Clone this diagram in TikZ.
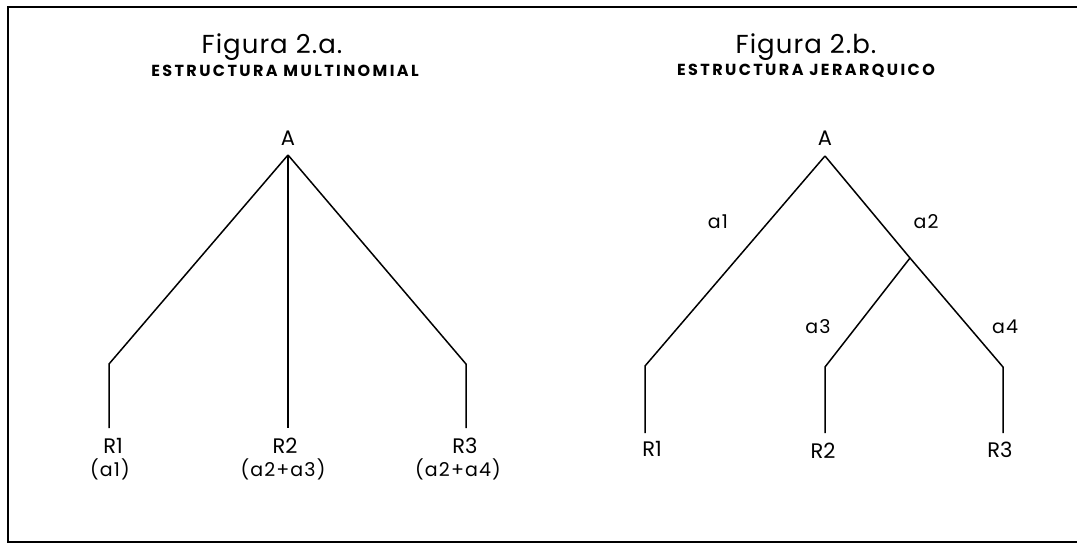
\documentclass[tikz,border=0pt]{standalone}
\usepackage{fontspec}
\setmainfont{Poppins}
\begin{document}
\begin{tikzpicture}[x=1pt,y=-1pt,
  lbl/.style={inner sep=0pt,font=\fontsize{21}{21}\selectfont},
  sub/.style={inner sep=0pt,font=\fontsize{19}{19}\selectfont\addfontfeatures{LetterSpace=6}},
  ttl/.style={inner sep=0pt,font=\fontsize{26}{26}\selectfont\addfontfeatures{LetterSpace=4}},
  subttl/.style={inner sep=0pt,font=\fontsize{16}{16}\bfseries\selectfont\addfontfeatures{LetterSpace=15}},
  edge/.style={line width=1.5pt,line join=round},
  frame/.style={line width=1.8pt}]
\useasboundingbox (0,0) rectangle (1077,544);
% frame
\coordinate (f1) at (1077,7);
\coordinate (f2) at (8,7);
\coordinate (f3) at (8,542);
\coordinate (f4) at (1077,542);
\draw[frame] (f1) -- (f2) -- (f3) -- (f4);

% ---- Figure 2.a
\node[ttl] (t1) at (272,47) {Figura 2.a.};
\node[subttl] (s1) at (285,71) {ESTRUCTURA MULTINOMIAL};
\node[lbl] (A1) at (288,138) {A};
\coordinate (p1) at (288,155);
\coordinate (k11) at (109,364);
\coordinate (e11) at (109,428);
\coordinate (e12) at (288,428);
\coordinate (k13) at (466,364);
\coordinate (e13) at (466,428);
\draw[edge] (p1) -- (k11) -- (e11);
\draw[edge] (p1) -- (e12);
\draw[edge] (p1) -- (k13) -- (e13);
\node[lbl] (r11) at (113,446) {R1};
\node[sub] (c11) at (110,469) {(a1)};
\node[lbl] (r12) at (285,446) {R2};
\node[sub] (c12) at (283,469) {(a2+a3)};
\node[lbl] (r13) at (465,446) {R3};
\node[sub] (c13) at (458,469) {(a2+a4)};

% ---- Figure 2.b
\node[ttl] (t2) at (806,47) {Figura 2.b.};
\node[subttl] (s2) at (806,71) {ESTRUCTURA JERARQUICO};
\node[lbl] (A2) at (825,138) {A};
\coordinate (p2) at (825,156);
\coordinate (k21) at (645,366);
\coordinate (e21) at (645,433);
\coordinate (b2) at (910,258);
\coordinate (k22) at (825,367);
\coordinate (e22) at (825,433);
\coordinate (k23) at (1003,367);
\coordinate (e23) at (1003,433);
\draw[edge] (p2) -- (k21) -- (e21);
\draw[edge] (p2) -- (b2) -- (k23) -- (e23);
\draw[edge] (b2) -- (k22) -- (e22);
\node[sub] (l1) at (718,222) {a1};
\node[sub] (l2) at (926,222) {a2};
\node[sub] (l3) at (818,327) {a3};
\node[sub] (l4) at (1005,327) {a4};
\node[lbl] (r21) at (652,449) {R1};
\node[lbl] (r22) at (823,451) {R2};
\node[lbl] (r23) at (1000,450) {R3};
\end{tikzpicture}
\end{document}
